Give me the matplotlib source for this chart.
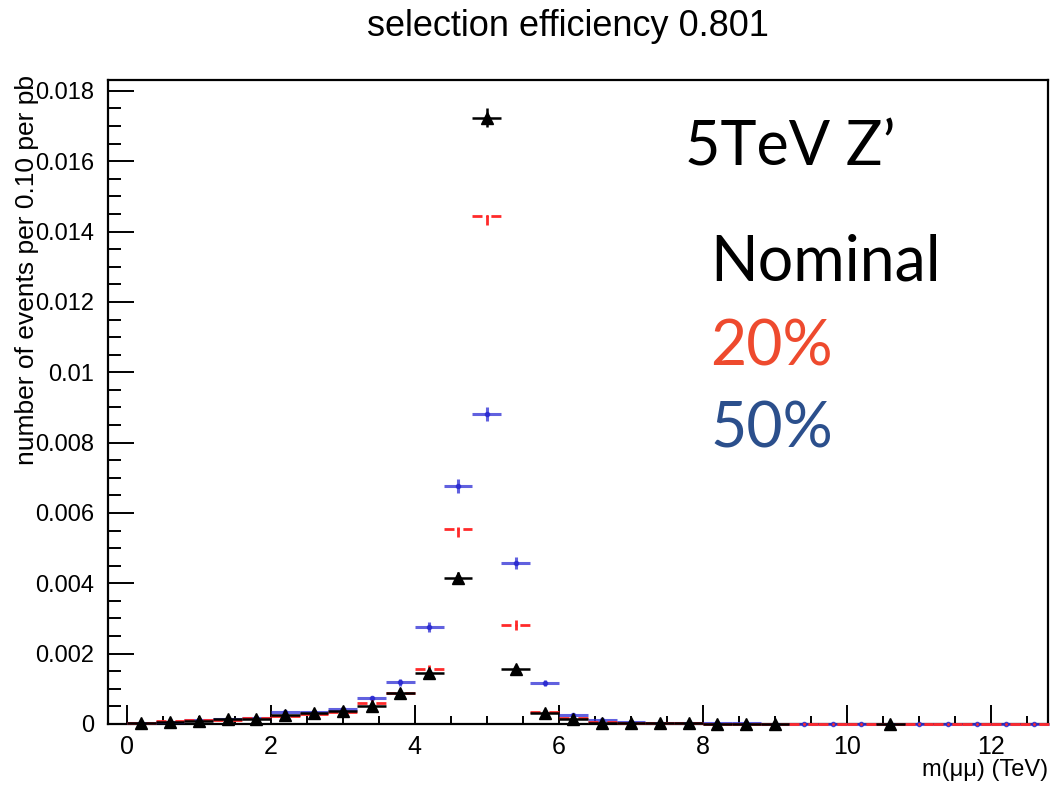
import matplotlib
matplotlib.use('Agg')
import matplotlib.pyplot as plt
from matplotlib.ticker import MultipleLocator, FuncFormatter
import numpy as np

# dimuon mass bins (TeV), 0.4 TeV wide
bin_centers = [0.2, 0.6, 1.0, 1.4, 1.8, 2.2, 2.6, 3.0, 3.4, 3.8,
               4.2, 4.6, 5.0, 5.4, 5.8, 6.2, 6.6, 7.0, 7.4, 7.8,
               8.2, 8.6, 9.0, 9.4, 9.8, 10.2, 10.6, 11.0, 11.4, 11.8,
               12.2, 12.6]
bin_half = 0.2

# events per bin per pb
nominal = [0.00003, 0.00007, 0.00008, 0.00013, 0.00015, 0.00026, 0.00030, 0.00037, 0.00052, 0.00087,
           0.00144, 0.00415, 0.01724, 0.00156, 0.00032, 0.00014, 0.00003, 0.00002, 0.00002, 0.00002,
           0.00001, 0.00001, 0.00001, 0.0, 0.0, 0.0, 0.00001, 0.0, 0.0, 0.0,
           0.0, 0.0]
smear20 = [0.00003, 0.00008, 0.00010, 0.00012, 0.00016, 0.00022, 0.00028, 0.00035, 0.00060, 0.00088,
           0.00155, 0.00555, 0.01445, 0.00282, 0.00035, 0.00017, 0.00006, 0.00003, 0.00002, 0.00002,
           0.00001, 0.00001, 0.00001, 0.00001, 0.0, 0.0, 0.0, 0.00001, 0.0, 0.0,
           0.0, 0.0]
smear50 = [0.00002, 0.00006, 0.00010, 0.00014, 0.00018, 0.00033, 0.00033, 0.00042, 0.00073, 0.00119,
           0.00276, 0.00677, 0.00882, 0.00458, 0.00117, 0.00026, 0.00010, 0.00005, 0.00004, 0.00003,
           0.00002, 0.00002, 0.00001, 0.00001, 0.0, 0.0, 0.0, 0.0, 0.0, 0.0,
           0.0, 0.0]

# statistical errors
nominal_err = [0.00002, 0.00003, 0.00003, 0.00004, 0.00004, 0.00005, 0.00006, 0.00006, 0.00007, 0.00009,
               0.00012, 0.00018, 0.00026, 0.00012, 0.00006, 0.00004, 0.00002, 0.00002, 0.00002, 0.00002,
               0.00001, 0.00001, 0.00001, 0.0, 0.0, 0.0, 0.00001, 0.0, 0.0, 0.0,
               0.0, 0.0]
smear20_err = [0.00002, 0.00003, 0.00003, 0.00004, 0.00004, 0.00005, 0.00005, 0.00006, 0.00008, 0.00009,
               0.00012, 0.00022, 0.00026, 0.00016, 0.00006, 0.00004, 0.00002, 0.00002, 0.00001, 0.00001,
               0.00001, 0.00001, 0.00001, 0.00001, 0.0, 0.0, 0.0, 0.00001, 0.0, 0.0,
               0.0, 0.0]
smear50_err = [0.00001, 0.00002, 0.00003, 0.00004, 0.00004, 0.00005, 0.00005, 0.00006, 0.00008, 0.00010,
               0.00014, 0.00020, 0.00020, 0.00016, 0.00008, 0.00004, 0.00002, 0.00002, 0.00002, 0.00001,
               0.00001, 0.00001, 0.00001, 0.00001, 0.0, 0.0, 0.0, 0.0, 0.0, 0.0,
               0.0, 0.0]

plt.rcParams['font.family'] = ['Liberation Sans', 'DejaVu Sans']

fig = plt.figure(figsize=(10.55, 7.86), dpi=100)
ax = fig.add_axes([108/1055, 1 - 724/786, (1048 - 108)/1055, (724 - 80)/786])

x = np.array(bin_centers)

# 50% smearing: solid blue (drawn over the frame so empty bins show on the axis)
ax.errorbar(x, smear50, xerr=bin_half, yerr=smear50_err, fmt='o', ms=3,
            color='#2a2ad0', ecolor='#3a3ad8', elinewidth=2.2, capsize=0, alpha=0.8,
            zorder=3, clip_on=False)

# 20% smearing: dashed red
eb = ax.errorbar(x, smear20, xerr=bin_half, yerr=smear20_err, fmt='.', ms=2,
                 color='#ff2a2a', ecolor='#ff2a2a', elinewidth=2.0, capsize=0,
                 zorder=3.5, clip_on=False)
for lc in eb[2]:
    lc.set_linestyle((0, (3.6, 3.2)))

# nominal: black triangles, empty bins skipped
nom = np.array(nominal)
keep = nom > 0
ax.errorbar(x[keep], nom[keep], xerr=bin_half, yerr=np.array(nominal_err)[keep], fmt='^', ms=8,
            color='black', ecolor='black', elinewidth=1.8, capsize=0, zorder=4, clip_on=False)

ax.set_xlim(-0.26, 12.79)
ax.set_ylim(0, 0.01831)

ax.xaxis.set_major_locator(MultipleLocator(2))
ax.xaxis.set_minor_locator(MultipleLocator(0.5))
ax.yaxis.set_major_locator(MultipleLocator(0.002))
ax.yaxis.set_minor_locator(MultipleLocator(0.0005))
ax.yaxis.set_major_formatter(FuncFormatter(lambda v, p: '{:g}'.format(round(v, 4))))

ax.tick_params(axis='both', which='both', direction='in', top=False, right=False, width=1.4)
ax.tick_params(axis='x', which='major', length=14, pad=8, labelsize=18)
ax.tick_params(axis='x', which='minor', length=6)
ax.tick_params(axis='y', which='major', length=19, pad=10, labelsize=17)
ax.tick_params(axis='y', which='minor', length=9.5)
for s in ax.spines.values():
    s.set_linewidth(1.6)

fig.text(568/1055, 1 - 26/786, 'selection efficiency 0.801', ha='center', va='center', fontsize=26)
fig.text(1048/1055, 1 - 770/786, 'm(μμ) (TeV)', ha='right', va='center', fontsize=17)
fig.text(27/1055, 1 - 75/786, 'number of events per 0.10 per pb', rotation=90,
         ha='center', va='top', fontsize=19)

# annotation block
fig.text(685/1055, 1 - 165/786, '5TeV Z\u2019', fontsize=44, family='Lato', va='baseline')
fig.text(710/1055, 1 - 280/786, 'Nominal', fontsize=45, family='Lato', va='baseline')
fig.text(710/1055, 1 - 365/786, '20%', fontsize=45, family='Lato', va='baseline', color='#ee4a2e')
fig.text(710/1055, 1 - 448/786, '50%', fontsize=45, family='Lato', va='baseline', color='#2b4f8c')

fig.savefig('out.png', dpi=100)
